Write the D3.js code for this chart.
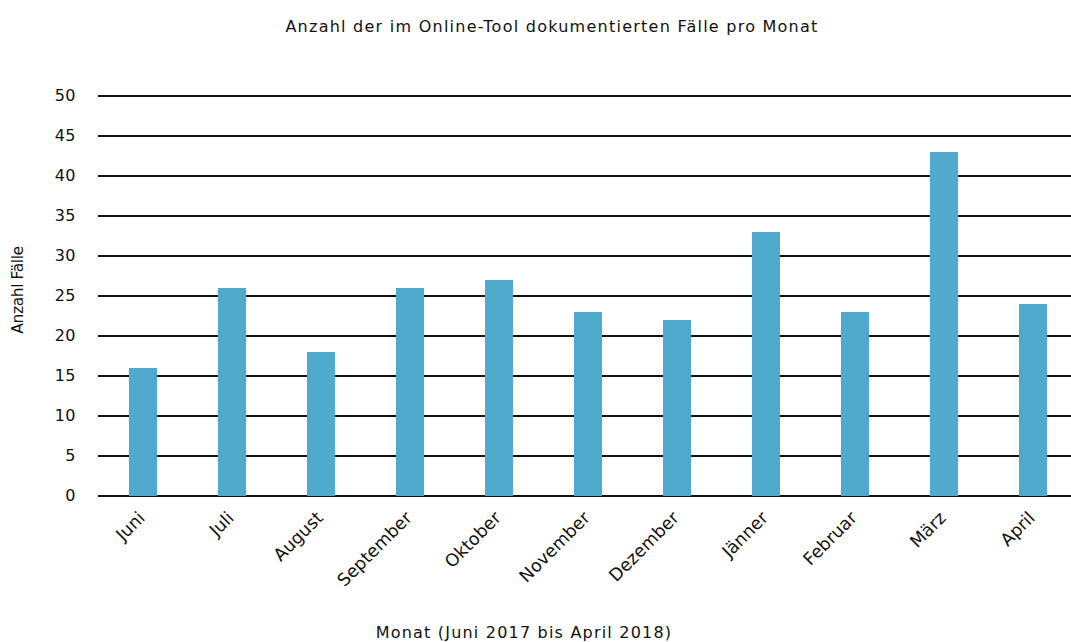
<!DOCTYPE html>
<html>
<head>
<meta charset="utf-8">
<script src="https://cdn.jsdelivr.net/npm/d3@7"></script>
<style>
  body { margin: 0; background: #fff; }
  text { font-family: "DejaVu Sans", Verdana, sans-serif; fill: #111; }
</style>
</head>
<body>
<svg id="chart" width="1071" height="642"></svg>
<script>
// data
var months = ["Juni", "Juli", "August", "September", "Oktober", "November",
              "Dezember", "Jänner", "Februar", "März", "April"];
var cases = [16, 26, 18, 26, 27, 23, 22, 33, 23, 43, 24];
var yTicks = [0, 5, 10, 15, 20, 25, 30, 35, 40, 45, 50];

var svg = d3.select("#chart");
var plotLeft = 98.5, plotRight = 1077.5, plotTop = 96, plotBottom = 496;

var x = d3.scaleBand()
    .domain(months)
    .range([plotLeft, plotRight])
    .paddingInner(0.685)
    .paddingOuter(0.3425);

var y = d3.scaleLinear()
    .domain([0, 50])
    .range([plotBottom, plotTop]);

// gridlines
svg.append("g")
    .selectAll("line")
    .data(yTicks)
    .enter().append("line")
    .attr("x1", plotLeft - 0.5)
    .attr("x2", 1071)
    .attr("y1", function (d) { return y(d); })
    .attr("y2", function (d) { return y(d); })
    .attr("stroke", "#111")
    .attr("stroke-width", 2);

// y tick labels
svg.append("g")
    .selectAll("text")
    .data(yTicks)
    .enter().append("text")
    .attr("x", 76)
    .attr("y", function (d) { return y(d); })
    .attr("dy", "0.3em")
    .attr("text-anchor", "end")
    .style("font-size", "16px")
    .style("letter-spacing", "0.5px")
    .text(function (d) { return d; });

// bars
svg.append("g")
    .selectAll("rect")
    .data(cases)
    .enter().append("rect")
    .attr("x", function (d, i) { return x(months[i]); })
    .attr("width", x.bandwidth())
    .attr("y", function (d) { return y(d); })
    .attr("height", function (d) { return plotBottom - y(d); })
    .attr("fill", "#50aacd");

// x labels, rotated
svg.append("g")
    .selectAll("text")
    .data(months)
    .enter().append("text")
    .attr("text-anchor", "end")
    .style("font-size", "17.5px")
    .attr("transform", function (d) {
        return "translate(" + (x(d) + x.bandwidth() / 2 + 3) + ",519) rotate(-45)";
    })
    .text(function (d) { return d; });

// title and axis titles
svg.append("text")
    .attr("x", 552)
    .attr("y", 32)
    .attr("text-anchor", "middle")
    .style("font-size", "16px")
    .style("letter-spacing", "1.25px")
    .text("Anzahl der im Online-Tool dokumentierten Fälle pro Monat");

svg.append("text")
    .attr("x", 524)
    .attr("y", 638)
    .attr("text-anchor", "middle")
    .style("font-size", "16px")
    .style("letter-spacing", "1.2px")
    .text("Monat (Juni 2017 bis April 2018)");

svg.append("text")
    .attr("transform", "translate(23,290) rotate(-90)")
    .attr("text-anchor", "middle")
    .style("font-size", "15.5px")
    .style("letter-spacing", "-0.4px")
    .text("Anzahl Fälle");
</script>
</body>
</html>
